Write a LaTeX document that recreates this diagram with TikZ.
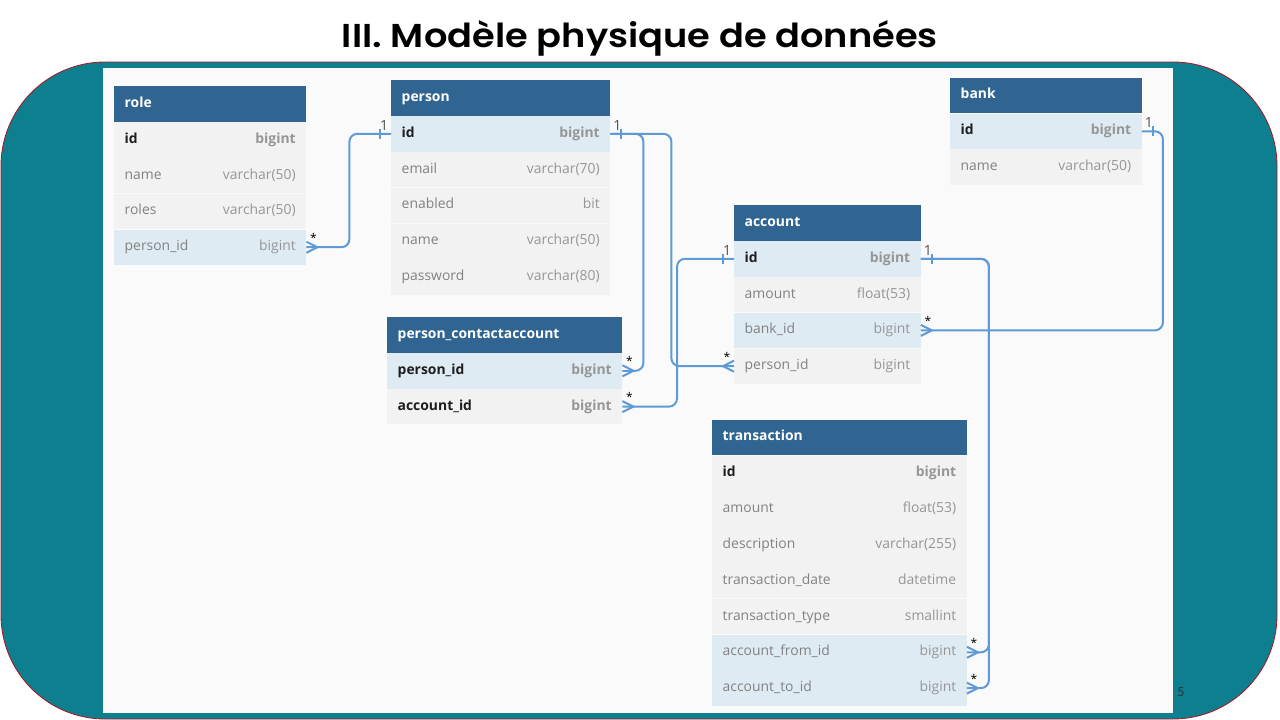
\documentclass[tikz,border=0pt]{standalone}
\usepackage{fontspec}
\setmainfont{Open Sans}
\newfontfamily\titlefont{Poppins}[UprightFont={* SemiBold}]
\newfontfamily\numfont{Carlito}
\usetikzlibrary{calc}

\definecolor{frameteal}{RGB}{14,127,143}
\definecolor{framered}{RGB}{170,20,30}
\definecolor{canvas}{RGB}{250,250,250}
\definecolor{headblue}{RGB}{48,101,146}
\definecolor{rowgrayc}{RGB}{242,242,242}
\definecolor{rowbluec}{RGB}{222,235,243}
\definecolor{fieldgray}{RGB}{130,130,130}
\definecolor{typegray}{RGB}{150,150,150}
\definecolor{keydark}{RGB}{30,30,30}
\definecolor{linkblue}{RGB}{94,155,214}
\definecolor{lblgray}{RGB}{80,80,80}

% field text helpers
\newcommand\fname[1]{\textcolor{fieldgray}{#1}}
\newcommand\ftype[1]{\textcolor{typegray}{#1}}
\newcommand\kname[1]{\textcolor{keydark}{\bfseries #1}}
\newcommand\ktype[1]{\textcolor{typegray}{\bfseries #1}}

% table header: name, x, y, width, title
\newcommand\dbhead[5]{%
  \node[dbheadbox, minimum width=#4, anchor=north west] (#1) at (#2,#3)
    {\makebox[\dimexpr#4-21pt\relax][l]{#5}};}
% table row: name, node above, width, fill style, field, type
\newcommand\dbrow[6]{%
  \node[#4, minimum width=#3, anchor=north west] (#1) at (#2.south west)
    {\makebox[\dimexpr#3-21pt\relax]{#5\hfill#6}};}

% relation ends
\newcommand\manyE[1]{\draw[conn, sharp corners] ($(#1.east)+(0,-5.5)$) -- ++(11,5.5) -- ++(-11,5.5);
  \node[lblmany] at ($(#1.east)+(7,-9.5)$) {*};}
\newcommand\manyW[1]{\draw[conn, sharp corners] ($(#1.west)+(0,-5.5)$) -- ++(-11,5.5) -- ++(11,5.5);
  \node[lblmany] at ($(#1.west)+(-7,-9.5)$) {*};}
\newcommand\oneE[1]{\draw[conn, sharp corners] ($(#1.east)+(11,-5)$) -- ++(0,10);
  \node[lblone] at ($(#1.east)+(7,-8.5)$) {1};}
\newcommand\oneW[1]{\draw[conn, sharp corners] ($(#1.west)+(-11,-5)$) -- ++(0,10);
  \node[lblone] at ($(#1.west)+(-7,-8.5)$) {1};}

\begin{document}
\begin{tikzpicture}[x=1pt, y=-1pt,
  dbheadbox/.style={fill=headblue, text=white, font=\fontsize{13.9}{16}\selectfont\bfseries,
    minimum height=35.5pt, inner sep=0pt, text height=10pt, text depth=3pt},
  rowgray/.style={fill=rowgrayc, font=\fontsize{13.9}{16}\selectfont,
    minimum height=35.4pt, inner sep=0pt, text height=10pt, text depth=3pt},
  rowblue/.style={rowgray, fill=rowbluec},
  conn/.style={draw=linkblue, line width=2pt, rounded corners=8pt},
  lblone/.style={text=lblgray, font=\fontsize{14}{15}\selectfont, inner sep=0pt},
  lblmany/.style={text=black, font=\fontsize{12}{14}\selectfont, inner sep=0pt}]

\useasboundingbox (0,0) rectangle (1280,720);
\fill[white] (0,0) rectangle (1280,720);

% title and slide frame
\node (title) at (640,38) {\scalebox{1}[0.9]{\resizebox{596pt}{!}{\titlefont III. Modèle physique de données}}};
\draw[draw=framered, fill=frameteal, line width=0.8pt, rounded corners=104pt] (1,62) rectangle (1277,719);
\fill[canvas] (103,68) rectangle (1173,713);
\node[text=black!80, font=\numfont\fontsize{14}{16}\selectfont] (pagenum) at (1181,692) {5};

% role
\dbhead{role}{114}{86}{192pt}{role}
\dbrow{role-id}{role}{192pt}{rowgray}{\kname{id}}{\ktype{bigint}}
\dbrow{role-name}{role-id}{192pt}{rowgray}{\fname{name}}{\ftype{varchar(50)}}
\dbrow{role-roles}{role-name}{192pt}{rowgray}{\fname{roles}}{\ftype{varchar(50)}}
\dbrow{role-pid}{role-roles}{192pt}{rowblue}{\fname{person\_id}}{\ftype{bigint}}

% person
\dbhead{person}{391}{80}{219pt}{person}
\dbrow{person-id}{person}{219pt}{rowblue}{\kname{id}}{\ktype{bigint}}
\dbrow{person-email}{person-id}{219pt}{rowgray}{\fname{email}}{\ftype{varchar(70)}}
\dbrow{person-enabled}{person-email}{219pt}{rowgray}{\fname{enabled}}{\ftype{bit}}
\dbrow{person-name}{person-enabled}{219pt}{rowgray}{\fname{name}}{\ftype{varchar(50)}}
\dbrow{person-pw}{person-name}{219pt}{rowgray}{\fname{password}}{\ftype{varchar(80)}}

% person_contactaccount
\dbhead{pca}{387}{317}{235pt}{person\_contactaccount}
\dbrow{pca-pid}{pca}{235pt}{rowblue}{\kname{person\_id}}{\ktype{bigint}}
\dbrow{pca-aid}{pca-pid}{235pt}{rowgray}{\kname{account\_id}}{\ktype{bigint}}

% account
\dbhead{acc}{734}{205}{186.5pt}{account}
\dbrow{acc-id}{acc}{186.5pt}{rowblue}{\kname{id}}{\ktype{bigint}}
\dbrow{acc-amount}{acc-id}{186.5pt}{rowgray}{\fname{amount}}{\ftype{float(53)}}
\dbrow{acc-bank}{acc-amount}{186.5pt}{rowblue}{\fname{bank\_id}}{\ftype{bigint}}
\dbrow{acc-pid}{acc-bank}{186.5pt}{rowgray}{\fname{person\_id}}{\ftype{bigint}}

% bank
\dbhead{bank}{950}{77.5}{191.5pt}{bank}
\dbrow{bank-id}{bank}{191.5pt}{rowblue}{\kname{id}}{\ktype{bigint}}
\dbrow{bank-name}{bank-id}{191.5pt}{rowgray}{\fname{name}}{\ftype{varchar(50)}}

% transaction
\dbhead{tr}{712}{419.5}{254.5pt}{transaction}
\dbrow{tr-id}{tr}{254.5pt}{rowgray}{\kname{id}}{\ktype{bigint}}
\dbrow{tr-amount}{tr-id}{254.5pt}{rowgray}{\fname{amount}}{\ftype{float(53)}}
\dbrow{tr-desc}{tr-amount}{254.5pt}{rowgray}{\fname{description}}{\ftype{varchar(255)}}
\dbrow{tr-date}{tr-desc}{254.5pt}{rowgray}{\fname{transaction\_date}}{\ftype{datetime}}
\dbrow{tr-type}{tr-date}{254.5pt}{rowgray}{\fname{transaction\_type}}{\ftype{smallint}}
\dbrow{tr-from}{tr-type}{254.5pt}{rowblue}{\fname{account\_from\_id}}{\ftype{bigint}}
\dbrow{tr-to}{tr-from}{254.5pt}{rowblue}{\fname{account\_to\_id}}{\ftype{bigint}}

% relations
\draw[conn] (role-pid.east) -- ++(43,0) |- (person-id.west);
\draw[conn] (person-id.east) -- ++(33,0) |- (pca-pid.east);
\draw[conn] (person-id.east) -- ++(61,0) |- (acc-pid.west);
\draw[conn] (acc-id.west) -- ++(-57,0) |- (pca-aid.east);
\draw[conn] (acc-id.east) -- ++(68,0) |- (tr-from.east);
\draw[conn] (acc-id.east) -- ++(68,0) |- (tr-to.east);
\draw[conn] (bank-id.east) -- ++(21,0) |- (acc-bank.east);

\manyE{role-pid}   \oneW{person-id}
\oneE{person-id}   \manyE{pca-pid}  \manyW{acc-pid}
\oneW{acc-id}      \manyE{pca-aid}
\oneE{acc-id}      \manyE{tr-from}  \manyE{tr-to}
\oneE{bank-id}     \manyE{acc-bank}
\end{tikzpicture}
\end{document}
